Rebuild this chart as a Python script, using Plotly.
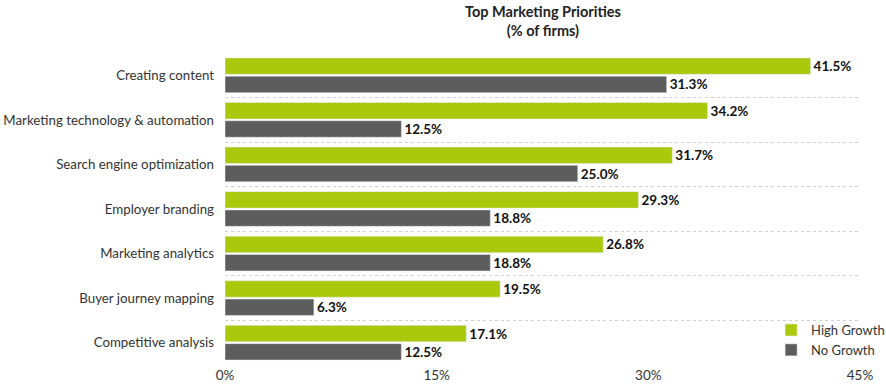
import plotly.graph_objects as go

categories = ["Creating content", "Marketing technology & automation", "Search engine optimization",
              "Employer branding", "Marketing analytics", "Buyer journey mapping", "Competitive analysis"]
high_growth = [41.5, 34.2, 31.7, 29.3, 26.8, 19.5, 17.1]
no_growth = [31.3, 12.5, 25.0, 18.8, 18.8, 6.3, 12.5]
tick_vals = [0, 15, 30, 45]
tick_text = ["0%", "15%", "30%", "45%"]
title_text = "<b>Top Marketing Priorities<br>(% of firms)</b>"

FONT = "Lato"
fig = go.Figure()
fig.add_trace(go.Bar(y=categories, x=high_growth, orientation="h", name="High Growth",
                     marker_color="#abc90c", texttemplate="%{x:.1f}%", textposition="outside",
                     textfont=dict(family=FONT, size=13.5, color="#111", weight="bold"),
                     cliponaxis=False))
fig.add_trace(go.Bar(y=categories, x=no_growth, orientation="h", name="No Growth",
                     marker_color="#5d5d5d", texttemplate="%{x:.1f}%", textposition="outside",
                     textfont=dict(family=FONT, size=13.5, color="#111", weight="bold"),
                     cliponaxis=False))

fig.update_layout(
    width=886, height=387,
    margin=dict(l=225, r=26, t=53, b=22, autoexpand=False),
    paper_bgcolor="white", plot_bgcolor="white",
    barmode="group", bargap=0.18, bargroupgap=0.1,
    font=dict(family=FONT, size=13, color="#333"),
    legend=dict(x=0.86, y=0.0, xanchor="left", yanchor="bottom", traceorder="normal",
                font=dict(family=FONT, size=13, color="#333"), bgcolor="rgba(0,0,0,0)",
                itemwidth=30, tracegroupgap=0),
    showlegend=True,
)
fig.add_annotation(text=title_text, x=0.5, xref="paper", y=1, yref="paper",
                   xanchor="center", yanchor="bottom", yshift=12, showarrow=False,
                   font=dict(family=FONT, size=14.5, color="#222"))
fig.update_xaxes(range=[0, 45], tickvals=tick_vals, ticktext=tick_text, showgrid=False,
                 zeroline=False, showline=False, ticks="", tickfont=dict(size=13.5, color="#333"),
                 automargin=False)
fig.update_yaxes(autorange="reversed", tickson="boundaries", showgrid=True, gridcolor="#cfcfcf",
                 griddash="dot", gridwidth=1, ticks="", showline=False, zeroline=False,
                 ticklabelstandoff=10, tickfont=dict(size=13.3, color="#333"), automargin=False)

fig.write_html("out.html", config={"displayModeBar": False},
               post_script="document.body.style.margin='0';")
